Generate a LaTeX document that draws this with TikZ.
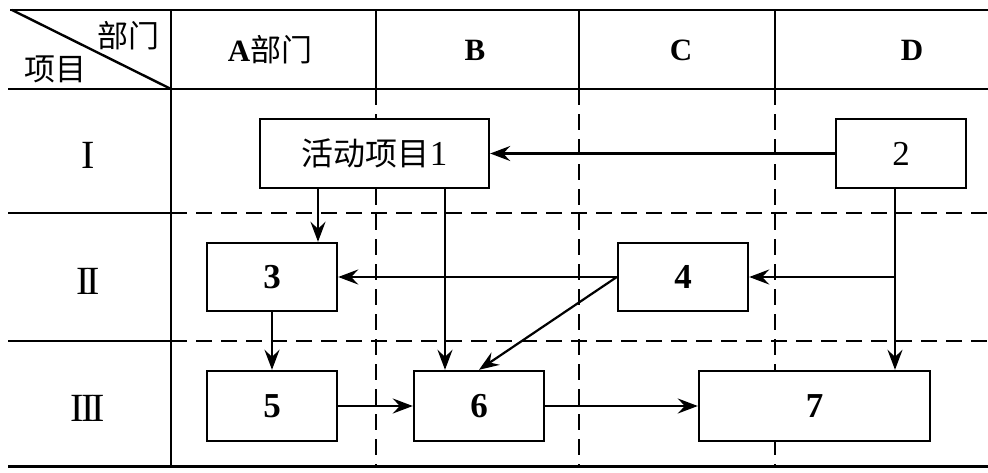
\documentclass[tikz,border=0pt]{standalone}
\usepackage{fontspec}
\setmainfont{Liberation Serif}
\newfontfamily\cjk{Noto Sans CJK SC}
\usetikzlibrary{arrows.meta,calc}
\begin{document}
\begin{tikzpicture}[x=1pt,y=-1pt,
  every node/.style={inner sep=0pt},
  hdr/.style={font=\fontsize{31}{36}\selectfont},
  cjkf/.style={font=\cjk\fontsize{31}{36}\selectfont},
  rowlab/.style={font=\fontsize{40}{44}\selectfont},
  grid/.style={line width=2.4pt},
  dgrid/.style={line width=2.2pt, dash pattern=on 16pt off 9pt},
  box/.style={draw, fill=white, line width=2.4pt, minimum width=130pt, minimum height=69pt, font=\fontsize{35}{40}\selectfont},
  arr/.style={line width=2.2pt, -{Stealth[length=20pt,width=15pt,inset=7pt]}}]
\useasboundingbox (0,0) rectangle (988,472);
% grid
\draw[dgrid] (171,213) -- (988,213);
\draw[dgrid] (171,341) -- (988,341);
\draw[dgrid] (376,89) -- (376,466);
\draw[dgrid] (579,89) -- (579,466);
\draw[dgrid] (775,89) -- (775,466);
\draw[grid] (10,10) -- (988,10);
\draw[grid] (8,89) -- (988,89);
\draw[line width=3pt] (8,466) -- (988,466);
\draw[grid] (8,213) -- (171,213);
\draw[grid] (8,341) -- (171,341);
\draw[grid] (171,10) -- (171,466);
\draw[grid] (376,10) -- (376,89);
\draw[grid] (579,10) -- (579,89);
\draw[grid] (775,10) -- (775,89);
\draw[grid] (12,10) -- (171,89);
% header
\node[cjkf] (hbm) at (128,36) {部门};
\node[cjkf] (hxm) at (55,69) {项目};
\node[hdr] (ha) at (270,50) {{\bfseries A}{\cjk 部门}};
\node[hdr] (hb) at (475,50) {\bfseries B};
\node[hdr] (hc) at (681,50) {\bfseries C};
\node[hdr] (hd) at (912,50) {\bfseries D};
% rows
\node[rowlab] (r1) at (88,155) {I};
\node[rowlab] (r2) at (88,281) {I\kern-0.07em I};
\node[rowlab] (r3) at (88,408) {I\kern-0.07em I\kern-0.07em I};
% boxes
\node[box, minimum width=229pt] (n1) at (374.5,153.5) {{\cjk\fontsize{32}{36}\selectfont 活动项目}1};
\node[box] (n2) at (901,153.5) {2};
\node[box, minimum height=68pt] (n3) at (272,277) {\bfseries 3};
\node[box, minimum height=68pt] (n4) at (683,277) {\bfseries 4};
\node[box, minimum height=70pt] (n5) at (272,406) {\bfseries 5};
\node[box, minimum height=70pt] (n6) at (479,406) {\bfseries 6};
\node[box, minimum height=70pt, minimum width=231pt] (n7) at (814.5,406) {\bfseries 7};
% helper x positions
\coordinate (x13) at (318,0);
\coordinate (x16) at (445,0);
\coordinate (x2) at (895,0);
% arrows
\draw[arr] (n2.west) -- (n1.east);
\draw[arr] (n1.south -| x13) -- (n3.north -| x13);
\draw[arr] (n1.south -| x16) -- (n6.north -| x16);
\draw[arr] (n4.west) -- (n3.east);
\draw[arr] (n4.west) -- (n6.north);
\draw[arr] (n2.south -| x2) |- (n4.east);
\draw[arr] (n2.south -| x2) -- (n7.north -| x2);
\draw[arr] (n3.south) -- (n5.north);
\draw[arr] (n5.east) -- (n6.west);
\draw[arr] (n6.east) -- (n7.west);
\end{tikzpicture}
\end{document}
